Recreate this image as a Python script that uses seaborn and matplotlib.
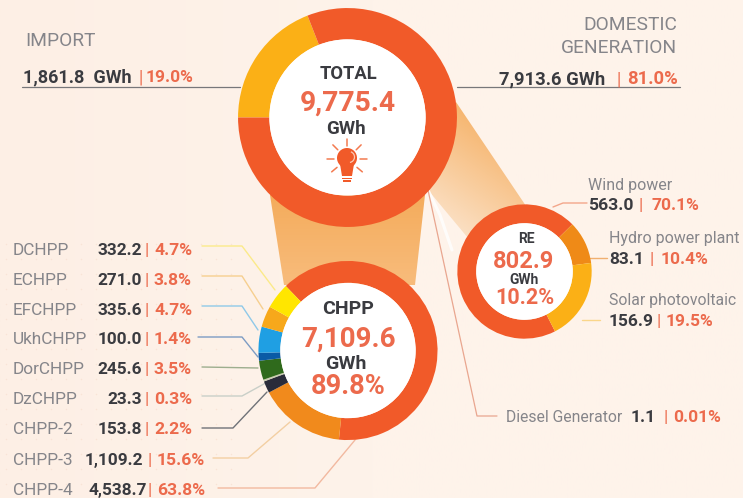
# Mongolia electricity balance infographic: three donuts with leader lines

import numpy as np
import matplotlib
matplotlib.use('Agg')
import matplotlib.pyplot as plt
import matplotlib.patches as mpatches
from matplotlib.colors import LinearSegmentedColormap
import seaborn as sns

W, H = 743, 498

# total donut
total_names = ['Import', 'Domestic generation']
total_values = [1861.8, 7913.6]
total_colors = sns.color_palette(['#FBB016', '#F15A29'])

# chpp donut, table order (top to bottom)
chpp_names = ['DCHPP', 'ECHPP', 'EFCHPP', 'UkhCHPP', 'DorCHPP', 'DzCHPP', 'CHPP-2', 'CHPP-3', 'CHPP-4']
chpp_values = [332.2, 271.0, 335.6, 100.0, 245.6, 23.3, 153.8, 1109.2, 4538.7]
chpp_labels = ['332.2', '271.0', '335.6', '100.0', '245.6', '23.3', '153.8', '1,109.2', '4,538.7']
chpp_pcts = ['4.7%', '3.8%', '4.7%', '1.4%', '3.5%', '0.3%', '2.2%', '15.6%', '63.8%']
chpp_colors = sns.color_palette(['#FFE600', '#F7A81B', '#1F9FE3', '#0A5BA6', '#2F6A1C',
                                 '#C9CDB0', '#2A2C3A', '#F18A1C', '#F15A29'])

# renewables donut
re_names = ['Wind power', 'Hydro power plant', 'Solar photovoltaic']
re_values = [563.0, 83.1, 156.9]
re_colors = sns.color_palette(['#F15A29', '#EF8A17', '#FBB016'])

DARK = '#3A3B40'
ORANGE = '#EC6A4C'
GREY = '#85858A'

sns.set_theme(style='white')
plt.rcParams['font.family'] = ['Roboto', 'DejaVu Sans']

fig = plt.figure(figsize=(W / 100, H / 100), dpi=100)


def pixel_axes(z):
    ax = fig.add_axes([0, 0, 1, 1], zorder=z)
    ax.set_xlim(0, W)
    ax.set_ylim(H, 0)
    ax.axis('off')
    ax.patch.set_alpha(0)
    return ax


def gradient_poly(ax, pts, start, end, angle):
    # fill a polygon with a linear gradient, angle in degrees in pixel space
    xs, ys = np.meshgrid(np.arange(W), np.arange(H))
    t = xs * np.cos(np.radians(angle)) + ys * np.sin(np.radians(angle))
    inside = mpatches.Polygon(pts, closed=True, transform=ax.transData, fc='none', ec='none')
    ax.add_patch(inside)
    box = np.array(pts)
    proj = box[:, 0] * np.cos(np.radians(angle)) + box[:, 1] * np.sin(np.radians(angle))
    t = np.clip((t - proj.min()) / (proj.max() - proj.min()), 0, 1)
    cmap = LinearSegmentedColormap.from_list('g', [start, end])
    im = ax.imshow(t, cmap=cmap, extent=[0, W, H, 0], aspect='auto', interpolation='bilinear', vmin=0, vmax=1)
    im.set_clip_path(inside)


def donut(cx, cy, R, r, values, colors, start):
    ax = fig.add_axes([(cx - R) / W, 1 - (cy + R) / H, 2 * R / W, 2 * R / H], zorder=2)
    ax.pie(values, colors=colors, startangle=start, counterclock=False, radius=1,
           wedgeprops=dict(width=1 - r / R, linewidth=0))
    ax.add_patch(mpatches.Circle((0, 0), r / R, fc='white', ec='none'))
    ax.set_xlim(-1.005, 1.005)
    ax.set_ylim(-1.005, 1.005)
    return ax


# background and funnels
bg = pixel_axes(0)
bg_cmap = LinearSegmentedColormap.from_list('bg', ['#FDEFE5', '#FEF3EA', '#FEF3EB'])
bg.imshow(np.linspace(0, 1, 256).reshape(1, -1), cmap=bg_cmap, extent=[0, W, H, 0], aspect='auto')
bg.set_xlim(0, W)
bg.set_ylim(H, 0)

gx, gy = np.meshgrid(np.arange(6, 240, 15), np.arange(244, 498, 15))
bg.scatter(gx.ravel(), gy.ravel(), s=1.2, c='#F9E4D6', linewidths=0)

gradient_poly(bg, [(270, 195), (425, 195), (415, 285), (284, 285)], '#F4AC5C', '#F8BC7C', 90)
gradient_poly(bg, [(456, 102), (526, 206), (468, 238), (428, 190)], '#F6B56E', '#FBE0C4', 125)

# diesel leader, white sliver under it
bg.plot([428, 440, 452], [190, 215, 250], color='white', lw=2.2, alpha=0.8, solid_capstyle='round')

lines = pixel_axes(1)
lines.plot([428, 477, 497], [190, 416, 416], color='#E9A68F', lw=0.9)
lines.plot([22, 240], [87, 87], color='#77777A', lw=0.9)
lines.plot([457, 680], [87, 87], color='#77777A', lw=0.9)

chpp_lines = [
    ([202, 242, 275], [246, 246, 290], '#FBEA8A'),
    ([202, 242, 263], [276, 276, 309], '#F6CF8F'),
    ([202, 242, 258], [306, 306, 330], '#8FC9E8'),
    ([198, 242, 258], [337, 337, 357], '#7D9CC4'),
    ([202, 258], [367, 368], '#9DAE8E'),
    ([202, 242, 282], [396, 396, 374], '#C9CFC8'),
    ([202, 233, 267], [428, 428, 392], '#6F7278'),
    ([213, 248, 290], [458, 458, 422], '#F3CFA3'),
    ([218, 315, 355], [488, 488, 440], '#F2B9A0'),
]
for xs, ys, c in chpp_lines:
    lines.plot(xs, ys, color=c, lw=1.0)

lines.plot([553, 563, 587], [207, 203, 203], color='#F3A68A', lw=1.0)
lines.plot([590, 607], [258, 258], color='#F0B070', lw=1.0)
lines.plot([582, 600], [320, 320], color='#FAD68A', lw=1.0)

# donuts
donut(347.5, 117.5, 110, 78.5, total_values, total_colors, 180)
donut(348, 350.5, 90, 68, chpp_values[::-1], chpp_colors[::-1], 134)
donut(524.5, 271.5, 67.5, 48.5, re_values, re_colors, -63)

# text layer
tx = pixel_axes(3)


def put(x, y, s, size, color=DARK, weight='normal', ha='left'):
    tx.text(x, y + 1, s, fontsize=size, color=color, fontweight=weight, ha=ha, va='center')


put(25, 40, 'IMPORT', 13.8, GREY)
put(23, 76, '1,861.8  GWh', 13, DARK, 'bold')
put(141, 76, '|', 13, ORANGE, ha='center')
put(146, 76, '19.0%', 12.5, ORANGE, 'bold')

put(677, 24, 'DOMESTIC', 13.8, GREY, ha='right')
put(677, 47, 'GENERATION', 13.8, GREY, ha='right')
put(499, 78, '7,913.6 GWh', 13.2, DARK, 'bold')
put(619, 78, '|', 13, ORANGE, ha='center')
put(627, 78, '81.0%', 13.2, ORANGE, 'bold')

put(349, 73, 'TOTAL', 13.2, DARK, 'bold', 'center')
put(348, 102, '9,775.4', 20.3, ORANGE, 'bold', 'center')
put(346, 128, 'GWh', 13.5, DARK, 'bold', 'center')

put(348, 308, 'CHPP', 14, DARK, 'bold', 'center')
put(348, 338, '7,109.6', 20, ORANGE, 'bold', 'center')
put(346, 363, 'GWh', 14, DARK, 'bold', 'center')
put(348, 385, '89.8%', 19.6, ORANGE, 'bold', 'center')

put(526, 238, 'RE', 10, DARK, 'bold', 'center')
put(524, 260, '802.9', 17, ORANGE, 'bold', 'center')
put(524, 279, 'GWh', 10, DARK, 'bold', 'center')
put(525, 297, '10.2%', 15.5, ORANGE, 'bold', 'center')

# chpp table
row_y = [249, 279, 309, 338, 368, 398, 428, 459, 489]
for i, name in enumerate(chpp_names):
    big = i >= 7
    vx = 147 if i == 8 else 143 if i == 7 else 142
    bx = 150 if big else 147
    put(13, row_y[i], name, 12.4, GREY)
    put(vx, row_y[i], chpp_labels[i], 12.4, DARK, 'bold', 'right')
    put(bx, row_y[i], '|', 12.4, ORANGE, ha='center')
    put(bx + 7, row_y[i], chpp_pcts[i], 12.6, ORANGE, 'bold')

# renewables labels
put(588, 184, re_names[0], 11.5, GREY)
put(588, 204, '563.0', 12.6, DARK, 'bold')
put(641, 204, '|', 12.5, ORANGE, ha='center')
put(652, 204, '70.1%', 12.5, ORANGE, 'bold')

put(609, 237, re_names[1], 11.5, GREY)
put(609, 258, '83.1', 12.5, DARK, 'bold')
put(652, 258, '|', 12.5, ORANGE, ha='center')
put(661, 258, '10.4%', 12.5, ORANGE, 'bold')

put(609, 299, re_names[2], 11.3, GREY)
put(609, 320, '156.9', 12.5, DARK, 'bold')
put(659, 320, '|', 12.5, ORANGE, ha='center')
put(666, 320, '19.5%', 12.5, ORANGE, 'bold')

put(506, 416, 'Diesel Generator', 11.3, GREY)
put(631, 416, '1.1', 12.5, DARK, 'bold')
put(666, 416, '|', 12.5, ORANGE, ha='center')
put(673, 416, '0.01%', 12.5, ORANGE, 'bold')

# light bulb icon
BULB = '#F15A29'
tx.add_patch(mpatches.Circle((347, 158), 10, fc=BULB, ec='none'))
tx.add_patch(mpatches.Polygon([(340, 164), (354, 164), (352, 176), (342, 176)], fc=BULB, ec='none'))
tx.add_patch(mpatches.Rectangle((342, 177.5), 10, 1.5, fc=BULB, ec='none'))
tx.add_patch(mpatches.Rectangle((343, 180), 8, 1.5, fc=BULB, ec='none'))
tx.add_patch(mpatches.Arc((349, 157), 11, 11, theta1=-70, theta2=80, ec='#FBC9B4', lw=0.9))
for deg in [-180, -135, -90, -45, 0, 40, 140]:
    a = np.radians(deg)
    tx.plot([347 + 13 * np.cos(a), 347 + 20 * np.cos(a)], [159 + 13 * np.sin(a), 159 + 20 * np.sin(a)],
            color='#F37A50', lw=1.1)

fig.savefig('out.png', dpi=100)
